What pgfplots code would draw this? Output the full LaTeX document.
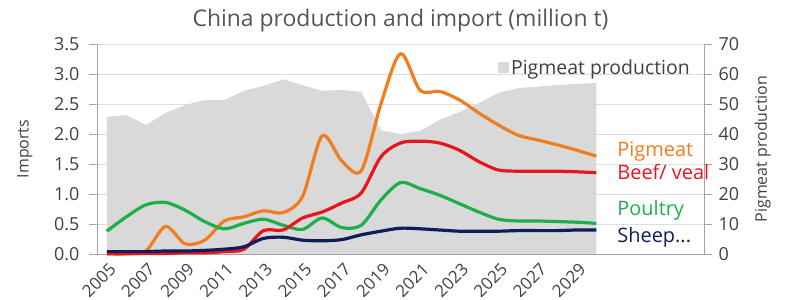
\documentclass[border=0pt]{standalone}
\usepackage{pgfplots}
\pgfplotsset{compat=1.18}
\usepackage{fontspec}
\setmainfont{Open Sans}
\definecolor{cOr}{RGB}{240,125,30}
\definecolor{cRe}{RGB}{232,20,30}
\definecolor{cGr}{RGB}{30,175,75}
\definecolor{cNa}{RGB}{15,30,90}
\definecolor{cAr}{RGB}{217,217,217}
\definecolor{cTx}{RGB}{64,64,64}
\definecolor{cTi}{RGB}{85,85,85}
\definecolor{cAx}{RGB}{165,165,165}
\definecolor{cGd}{RGB}{222,222,222}
\pgfplotstableread{
year prod pig beef poul sheep
2005 45.7 0.00 0.01 0.38 0.04
2006 46.3 0.00 0.01 0.62 0.04
2007 43.0 0.05 0.01 0.82 0.04
2008 47.0 0.46 0.01 0.86 0.05
2009 49.7 0.17 0.02 0.73 0.05
2010 51.3 0.23 0.02 0.54 0.06
2011 51.3 0.55 0.04 0.42 0.08
2012 54.4 0.62 0.08 0.51 0.12
2013 56.0 0.72 0.39 0.58 0.26
2014 58.2 0.69 0.40 0.48 0.28
2015 56.3 0.96 0.60 0.41 0.23
2016 54.4 1.97 0.70 0.60 0.22
2017 54.7 1.55 0.85 0.44 0.24
2018 54.0 1.39 1.02 0.48 0.32
2019 41.3 2.50 1.62 0.90 0.38
2020 40.0 3.34 1.85 1.19 0.43
2021 41.0 2.73 1.88 1.09 0.42
2022 44.7 2.71 1.85 0.98 0.40
2023 47.3 2.57 1.73 0.84 0.38
2024 50.3 2.35 1.54 0.70 0.38
2025 53.7 2.15 1.40 0.58 0.38
2026 55.3 1.98 1.38 0.55 0.39
2027 55.8 1.90 1.38 0.55 0.39
2028 56.3 1.82 1.38 0.54 0.39
2029 56.7 1.73 1.37 0.53 0.40
2030 57.0 1.63 1.355 0.51 0.40
}\datatable
\begin{document}
\begin{tikzpicture}
\pgfplotsset{
  every axis/.append style={scale only axis, width=607bp, height=210bp,
    xmin=2004.5, xmax=2035.5,
    axis line style={cAx, line width=0.8bp},
    tick style={cAx, line width=0.8bp},
    tick align=outside,
    ticklabel style={font=\fontsize{18}{20}\selectfont, text=cTx},
  },
}
% right axis: production area + grid + legend
\begin{axis}[
  hide x axis,
  axis y line*=right,
  ymin=0, ymax=70,
  ytick={0,10,...,70},
  ymajorgrids, grid style={cGd, line width=0.8bp},
  major tick length=8bp,
  /pgf/number format/assume math mode=true,
  yticklabel style={xshift=3bp},
  ylabel={Pigmeat production},
  ylabel style={font=\fontsize{16}{18}\selectfont, text=cTx, yshift=-9bp},
  legend style={draw=none, fill=none, at={(0.985,0.886)}, anchor=east,
    font=\fontsize{19.5}{21}\selectfont, text=cTx,
    /tikz/every even column/.append style={column sep=0bp}},
  legend image code/.code={\fill[cAr] (0bp,-5.5bp) rectangle (11bp,5.5bp);},
]
\addplot[fill=cAr, draw=none] table[x=year, y=prod] {\datatable} \closedcycle;
\addlegendentry{Pigmeat production}
\end{axis}
% left axis: imports lines
\begin{axis}[
  name=A,
  clip=false,
  axis y line*=left, axis x line*=bottom,
  ymin=0, ymax=3.5,
  ytick={0,0.5,...,3.5},
  major tick length=8bp,
  /pgf/number format/.cd, fixed, fixed zerofill, precision=1, assume math mode=true,
  /pgfplots/.cd,
  yticklabel style={xshift=-6bp},
  xtick={2005,2007,...,2029},
  xticklabels={2005,2007,2009,2011,2013,2015,2017,2019,2021,2023,2025,2027,2029},
  x tick style={draw=none},
  minor xtick={2004.5,2005.5,...,2035.5},
  minor x tick style={cAx, line width=0.8bp},
  minor tick length=5bp,
  xticklabel style={font=\fontsize{17}{19}\selectfont, rotate=45, anchor=north east, inner sep=0bp, xshift=1bp, yshift=-1bp},
  ylabel={Imports},
  ylabel style={font=\fontsize{16}{18}\selectfont, text=cTx, yshift=15bp},
  title={China production and import (million t)},
  title style={font=\fontsize{23}{25}\selectfont, text=cTi, yshift=2bp},
]
\addplot[cOr, line width=3.2bp, smooth, tension=0.5] table[x=year, y=pig] {\datatable};
\addplot[cGr, line width=3.2bp, smooth, tension=0.5] table[x=year, y=poul] {\datatable};
\addplot[cRe, line width=3.2bp, smooth, tension=0.5] table[x=year, y=beef] {\datatable};
\addplot[cNa, line width=3.2bp, smooth, tension=0.5] table[x=year, y=sheep] {\datatable};
\node[anchor=west, text=cOr, font=\fontsize{20}{22}\selectfont] at (axis cs:2030.9,1.70) {Pigmeat};
\node[anchor=west, text=cRe, font=\fontsize{20}{22}\selectfont] at (axis cs:2030.9,1.37) {Beef/ veal};
\node[anchor=west, text=cGr, font=\fontsize{20}{22}\selectfont] at (axis cs:2030.9,0.73) {Poultry};
\node[anchor=west, text=cNa, font=\fontsize{20}{22}\selectfont] at (axis cs:2030.9,0.28) {Sheep...};
\end{axis}
\pgfresetboundingbox
\path ([shift={(-97bp,-46bp)}]A.south west) rectangle ([shift={(82bp,44bp)}]A.north east);
\end{tikzpicture}
\end{document}
